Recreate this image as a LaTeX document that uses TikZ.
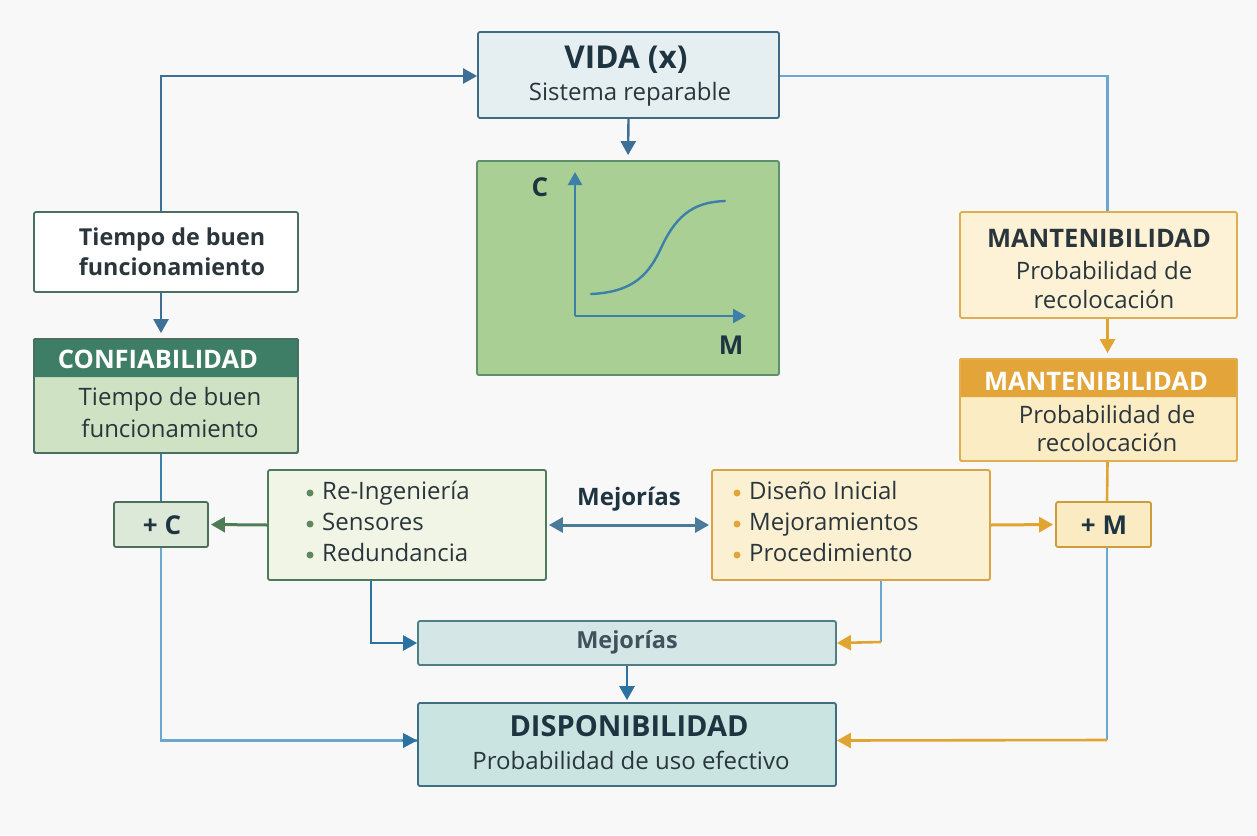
\documentclass[tikz,border=0pt]{standalone}
\usepackage{fontspec}
\setmainfont{Open Sans}
\usetikzlibrary{arrows.meta,calc}
\definecolor{bgc}{HTML}{F8F8F9}
\definecolor{navy}{HTML}{1E3440}
\definecolor{txt}{HTML}{2A363C}
\definecolor{darr}{HTML}{3E6F96}
\definecolor{lblue}{HTML}{6AA8CF}
\definecolor{vblue}{HTML}{2C72A0}
\definecolor{garr}{HTML}{4E7D55}
\definecolor{oarr}{HTML}{E1A431}
\definecolor{vidafill}{HTML}{E5EFF2}
\definecolor{vidaedge}{HTML}{3F6B82}
\definecolor{graphfill}{HTML}{A9CF95}
\definecolor{graphedge}{HTML}{5C8F6A}
\definecolor{axis}{HTML}{3C7FA8}
\definecolor{tedge}{HTML}{4A6F62}
\definecolor{confhead}{HTML}{3E7D66}
\definecolor{confbody}{HTML}{CFE3C4}
\definecolor{pcfill}{HTML}{DCE8D8}
\definecolor{pcedge}{HTML}{4D6F5A}
\definecolor{glfill}{HTML}{F1F5E6}
\definecolor{gledge}{HTML}{4E7A5C}
\definecolor{gbul}{HTML}{5C8A5E}
\definecolor{olfill}{HTML}{FCF0D2}
\definecolor{oledge}{HTML}{D9A445}
\definecolor{obul}{HTML}{E3A53A}
\definecolor{pmfill}{HTML}{FBEBC2}
\definecolor{pmedge}{HTML}{CF9C3B}
\definecolor{m1fill}{HTML}{FDF2D6}
\definecolor{m1edge}{HTML}{E0AE4E}
\definecolor{m2head}{HTML}{E3A43A}
\definecolor{m2body}{HTML}{FBECC3}
\definecolor{mejfill}{HTML}{D4E7E6}
\definecolor{mejedge}{HTML}{4F7F80}
\definecolor{dispfill}{HTML}{CAE4E2}
\definecolor{dispedge}{HTML}{3F6E80}
\definecolor{dblarr}{HTML}{4C7A9B}
\tikzset{
  box/.style={draw, line width=1.8pt, rounded corners=2pt, inner sep=0pt},
  tip/.style={-{Triangle[length=14pt,width=15pt]}},
  lbl/.style={inner sep=0pt, anchor=center, text=txt, font=\fontsize{24}{28}\selectfont},
  blbl/.style={lbl, text=navy, font=\fontsize{23.3}{27}\selectfont\bfseries},
  hlbl/.style={lbl, text=navy, font=\fontsize{25.5}{29}\selectfont\bfseries},
  item/.style={inner sep=0pt, anchor=west, text=txt, text height=17pt, text depth=5pt, font=\fontsize{24}{28}\selectfont},
  bul/.style={circle, inner sep=0pt, minimum size=7pt},
}
\begin{document}
\begin{tikzpicture}[x=1pt,y=-1pt]
\fill[bgc] (0,0) rectangle (1257,835);
\useasboundingbox (0,0) rectangle (1257,835);

% ---------- boxes ----------
\node[box, draw=vidaedge, fill=vidafill, minimum width=301pt, minimum height=86pt] (vida) at (628.5,75) {};
\node[blbl, font=\fontsize{31.5}{35}\selectfont\bfseries] (vidat) at (626,60) {VIDA (x)};
\node[lbl] (vidas) at (630,94) {Sistema reparable};

\node[box, draw=graphedge, fill=graphfill, minimum width=302pt, minimum height=214pt] (graph) at (628,268) {};
\coordinate (orig) at (575,316);
\coordinate (ytop) at (575,172);
\coordinate (xend) at (746,316);
\draw[axis, line width=2.4pt, -{Triangle[length=13pt,width=14pt]}] (orig) -- (ytop);
\draw[axis, line width=2.4pt, -{Triangle[length=13pt,width=14pt]}] (orig) -- (xend);
\draw[axis, line width=2.4pt, line cap=round] (591,294) .. controls (636,292) and (650,272) .. (662,246) .. controls (678,212) and (697,202) .. (725,201);
\node[blbl, font=\fontsize{26}{30}\selectfont\bfseries] (cl) at (540,187) {C};
\node[blbl, font=\fontsize{26}{30}\selectfont\bfseries] (ml) at (731,345) {M};

\node[box, draw=tedge, fill=white, minimum width=264pt, minimum height=80pt] (tiempo) at (166,252) {};
\node[blbl, text=txt] (t1) at (172,239) {Tiempo de buen};
\node[blbl, text=txt] (t2) at (172,267) {funcionamiento};

\node[box, draw=tedge, fill=confbody, minimum width=264pt, minimum height=114pt] (conf) at (166,396) {};
\fill[confhead, rounded corners=2pt] (conf.north west) rectangle ([yshift=-39pt]conf.north east);
\node[box, draw=tedge, minimum width=264pt, minimum height=114pt] (confb) at (166,396) {};
\node[hlbl, text=white] (ch) at (158,359) {CONFIABILIDAD};
\node[lbl] (c1) at (170,399) {Tiempo de buen};
\node[lbl] (c2) at (170,428) {funcionamiento};

\node[box, draw=pcedge, fill=pcfill, minimum width=94pt, minimum height=45pt] (pC) at (161,524.5) {};
\node[blbl, font=\fontsize{26}{30}\selectfont\bfseries] (pCt) at (162,525) {+ C};

\node[box, draw=gledge, fill=glfill, minimum width=278pt, minimum height=110pt] (glist) at (407,525) {};
\foreach \y/\t [count=\i] in {493/Re-Ingeniería, 524/Sensores, 555/Redundancia}{
  \node[bul, fill=gbul] (gb\i) at (310,\y) {};
  \node[item] (gi\i) at (322,\y) {\t};
}

\node[box, draw=oledge, fill=olfill, minimum width=278pt, minimum height=110pt] (olist) at (851,525) {};
\foreach \y/\t [count=\i] in {493/Diseño Inicial, 524/Mejoramientos, 555/Procedimiento}{
  \node[bul, fill=obul] (ob\i) at (737,\y) {};
  \node[item] (oi\i) at (749,\y) {\t};
}

\node[box, draw=pmedge, fill=pmfill, minimum width=95pt, minimum height=45pt] (pM) at (1103.5,524.5) {};
\node[blbl, font=\fontsize{26}{30}\selectfont\bfseries] (pMt) at (1104,525) {+ M};

\node[box, draw=m1edge, fill=m1fill, minimum width=277pt, minimum height=106pt] (m1) at (1098.5,265) {};
\node[hlbl, text=txt] (m1h) at (1099,238) {MANTENIBILIDAD};
\node[lbl] (m1a) at (1104,270) {Probabilidad de};
\node[lbl] (m1b) at (1104,299) {recolocación};

\node[box, draw=m1edge, fill=m2body, minimum width=277pt, minimum height=102pt] (m2) at (1098.5,410) {};
\fill[m2head, rounded corners=2pt] (m2.north west) rectangle ([yshift=-39pt]m2.north east);
\node[box, draw=m1edge, minimum width=277pt, minimum height=102pt] (m2b) at (1098.5,410) {};
\node[hlbl, text=white] (m2h) at (1096,381) {MANTENIBILIDAD};
\node[lbl] (m2a) at (1107,414) {Probabilidad de};
\node[lbl] (m2c) at (1107,442) {recolocación};

\node[box, draw=mejedge, fill=mejfill, minimum width=418pt, minimum height=44pt] (mej) at (627,643) {};
\node[blbl, text=navy!85, font=\fontsize{23.5}{27}\selectfont\bfseries] (mejt) at (627,642) {Mejorías};

\node[box, draw=dispedge, fill=dispfill, minimum width=418pt, minimum height=83pt] (disp) at (627,744.5) {};
\node[blbl, font=\fontsize{29}{33}\selectfont\bfseries] (dispt) at (629,726) {DISPONIBILIDAD};
\node[lbl] (disps) at (631,760) {Probabilidad de uso efectivo};

\node[blbl, text=navy, font=\fontsize{24}{28}\selectfont\bfseries] (mejlab) at (629,499) {Mejorías};

% ---------- connectors ----------
\coordinate (tN) at ([xshift=-5pt]tiempo.north);
\coordinate (tS) at ([xshift=-5pt]tiempo.south);
\coordinate (cN) at ([xshift=-5pt]conf.north);
\coordinate (cS) at ([xshift=-5pt]conf.south);
\draw[darr, line width=2.4pt, tip] (tN) |- ([yshift=-1pt]vida.west);
\draw[darr, line width=2.4pt, tip, shorten >=5pt] (vida.south) -- (graph.north);
\draw[darr, line width=2.4pt, tip, shorten >=5pt] (tS) -- (cN);
\draw[axis, line width=2.4pt] (cS) -- (pC.north);
\draw[lblue, line width=2.2pt] (pC.south) |- ([yshift=4pt]disp.west);
\draw[vblue, line width=0pt, tip] ([xshift=-15pt,yshift=4pt]disp.west) -- ([yshift=4pt]disp.west);
\draw[garr, line width=3pt, tip, shorten >=2pt] (glist.west) -- (pC.east);
\draw[dblarr, line width=3pt, {Triangle[length=14pt,width=15pt]}-{Triangle[length=14pt,width=15pt]}, shorten >=2pt, shorten <=2pt] (glist.east) -- (olist.west);
\draw[oarr, line width=3pt, tip, shorten >=2pt] (olist.east) -- (pM.west);
\coordinate (m1N) at ([xshift=9pt]m1.north);
\coordinate (m1S) at ([xshift=9pt]m1.south);
\coordinate (m2N) at ([xshift=9pt]m2.north);
\coordinate (m2S) at ([xshift=9pt]m2.south);
\coordinate (pMN) at ([xshift=3.5pt]pM.north);
\coordinate (pMS) at ([xshift=3.5pt]pM.south);
\draw[lblue, line width=2.2pt] ([yshift=-1pt]vida.east) -| (m1N);
\draw[oarr, line width=2.6pt, tip, shorten >=5pt] (m1S) -- (m2N);
\draw[oarr, line width=2.6pt] (m2S) -- (pMN);
\coordinate (rc) at (pMS |- 0,740);
\draw[lblue, line width=2.2pt] (pMS) -- (rc);
\draw[oarr, line width=2.6pt, tip] (rc) -- ([yshift=4pt]disp.east);
\coordinate (gS) at (glist.south -| 371,0);
\draw[vblue, line width=2.6pt, tip] (gS) |- (mej.west);
\coordinate (oS) at (olist.south -| 881,0);
\coordinate (oc) at (881,642);
\draw[lblue, line width=2.2pt] (oS) -- (oc);
\draw[oarr, line width=2.6pt, tip] (oc) -- (mej.east);
\draw[vblue, line width=2.6pt, tip, shorten >=2pt] (mej.south) -- (disp.north);
\end{tikzpicture}
\end{document}
